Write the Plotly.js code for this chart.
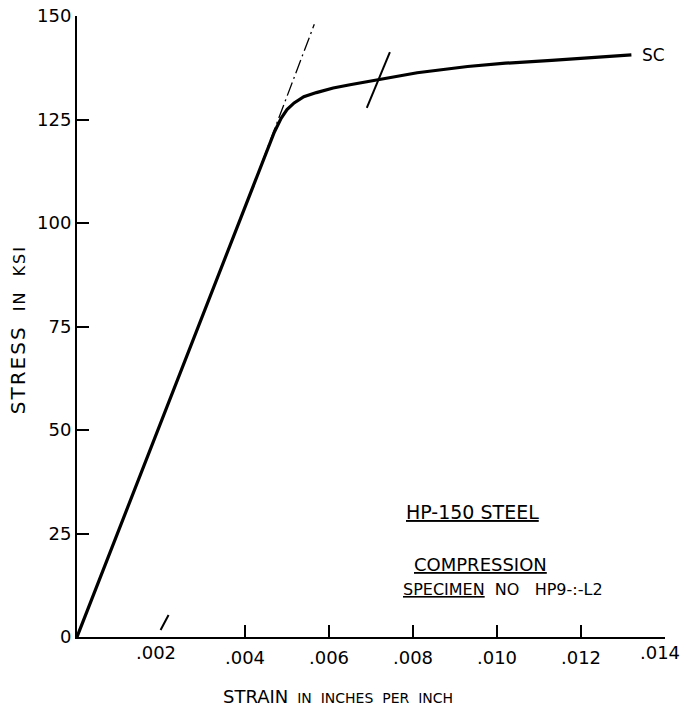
<!DOCTYPE html>
<html>
<head>
<meta charset="utf-8">
<script src="https://cdn.plot.ly/plotly-3.0.1.min.js"></script>
<style>html,body{margin:0;padding:0;background:#fff;}</style>
</head>
<body>
<div id="chart" style="width:682px;height:707px;"></div>
<script>
// Main stress-strain curve (specimen SC)
const strain = [0, 0.0046, 0.0047, 0.00486, 0.0050, 0.00517, 0.0054, 0.0057, 0.0061, 0.0065, 0.0072, 0.0081, 0.0093, 0.0102, 0.0113, 0.0121, 0.0132];
const stress = [0, 119.6, 122.0, 125.3, 127.4, 129.0, 130.5, 131.5, 132.6, 133.4, 134.7, 136.3, 137.8, 138.6, 139.3, 139.8, 140.6];
// Extension of elastic (tangent) line
const tangentStrain = [0.0044, 0.00565];
const tangentStress = [114.5, 148];
// 0.2% offset line pieces
const offsetLowStrain = [0.00199, 0.00218];
const offsetLowStress = [1.7, 5.3];
const offsetHighStrain = [0.0069, 0.00745];
const offsetHighStress = [127.8, 141.3];
// Axis ticks
const xTickVals = [0.004, 0.006, 0.008, 0.010, 0.012, 0.014];
const xTickText = ['.004', '.006', '.008', '.010', '.012', ''];
const xTickVals2 = [0.002, 0.014];
const xTickText2 = ['.002', '.014'];
const yTickVals = [0, 25, 50, 75, 100, 125, 150];
const yTickText = ['0', '25', '50', '75', '100', '125', '150'];
const curveLabel = 'SC';

const FONT = 'DejaVu Sans, sans-serif';

const traces = [
  {x: strain, y: stress, mode: 'lines', line: {color: '#000', width: 3.2}, hoverinfo: 'skip'},
  {x: tangentStrain, y: tangentStress, mode: 'lines', line: {color: '#000', width: 1.3, dash: '14px,4px,2px,4px'}, hoverinfo: 'skip'},
  {x: offsetLowStrain, y: offsetLowStress, mode: 'lines', line: {color: '#000', width: 2}, hoverinfo: 'skip'},
  {x: offsetHighStrain, y: offsetHighStress, mode: 'lines', line: {color: '#000', width: 2}, hoverinfo: 'skip'},
  {x: [0.002], y: [0], xaxis: 'x2', mode: 'markers', marker: {opacity: 0}, hoverinfo: 'skip'}
];

const layout = {
  width: 682, height: 707,
  margin: {l: 77, r: 17, t: 16, b: 70},
  paper_bgcolor: '#fff', plot_bgcolor: '#fff',
  showlegend: false,
  font: {family: FONT, color: '#000'},
  xaxis: {
    range: [0, 0.014], showgrid: false, zeroline: false,
    showline: true, linecolor: '#000', linewidth: 2,
    ticks: 'inside', ticklen: 12, tickwidth: 2, tickcolor: '#000',
    tickvals: xTickVals, ticktext: xTickText,
    tickfont: {family: FONT, size: 18, color: '#000'},
    ticklabelstandoff: 3
  },
  xaxis2: {
    overlaying: 'x', matches: 'x', side: 'bottom', range: [0, 0.014],
    showgrid: false, zeroline: false, showline: false, ticks: '',
    tickvals: xTickVals2, ticktext: xTickText2,
    tickfont: {family: FONT, size: 18, color: '#000'},
    ticklabelstandoff: 3, ticklabelshift: -5, ticklabeloverflow: 'allow'
  },
  yaxis: {
    range: [0, 150], showgrid: false, zeroline: false,
    showline: true, linecolor: '#000', linewidth: 2,
    ticks: 'inside', ticklen: 12, tickwidth: 2, tickcolor: '#000',
    tickvals: yTickVals, ticktext: yTickText,
    tickfont: {family: FONT, size: 18, color: '#000'}
  },
  annotations: [
    {xref: 'paper', yref: 'paper', x: -0.1003, y: 0.494, textangle: -90,
     xanchor: 'center', yanchor: 'middle', showarrow: false,
     text: '<span style="font-size:20px;letter-spacing:2px">STRESS</span><span style="font-size:16px;letter-spacing:2px">  IN  KSI</span>',
     font: {family: FONT, size: 17, color: '#000'}},
    {xref: 'paper', yref: 'paper', x: 0.444, y: -0.0966,
     xanchor: 'center', yanchor: 'middle', showarrow: false,
     text: '<span style="font-size:18px">STRAIN</span><span style="font-size:14px">  IN  INCHES  PER  INCH</span>',
     font: {family: FONT, size: 16, color: '#000'}},
    {xref: 'paper', yref: 'paper', x: 0.672, y: 0.201,
     xanchor: 'center', yanchor: 'middle', showarrow: false,
     text: '<u>HP-150 STEEL</u>', font: {family: FONT, size: 19, color: '#000'}},
    {xref: 'paper', yref: 'paper', x: 0.687, y: 0.116,
     xanchor: 'center', yanchor: 'middle', showarrow: false,
     text: '<u>COMPRESSION</u>', font: {family: FONT, size: 18, color: '#000'}},
    {xref: 'paper', yref: 'paper', x: 0.724, y: 0.0757,
     xanchor: 'center', yanchor: 'middle', showarrow: false,
     text: '<u>SPECIMEN</u>  NO   HP9-:-L2', font: {family: FONT, size: 16, color: '#000'}},
    {x: strain[strain.length - 1], y: stress[stress.length - 1],
     xanchor: 'left', yanchor: 'middle', xshift: 9, showarrow: false,
     text: curveLabel, font: {family: FONT, size: 17, color: '#000'}}
  ]
};

Plotly.newPlot('chart', traces, layout, {staticPlot: true, displayModeBar: false});
</script>
</body>
</html>
